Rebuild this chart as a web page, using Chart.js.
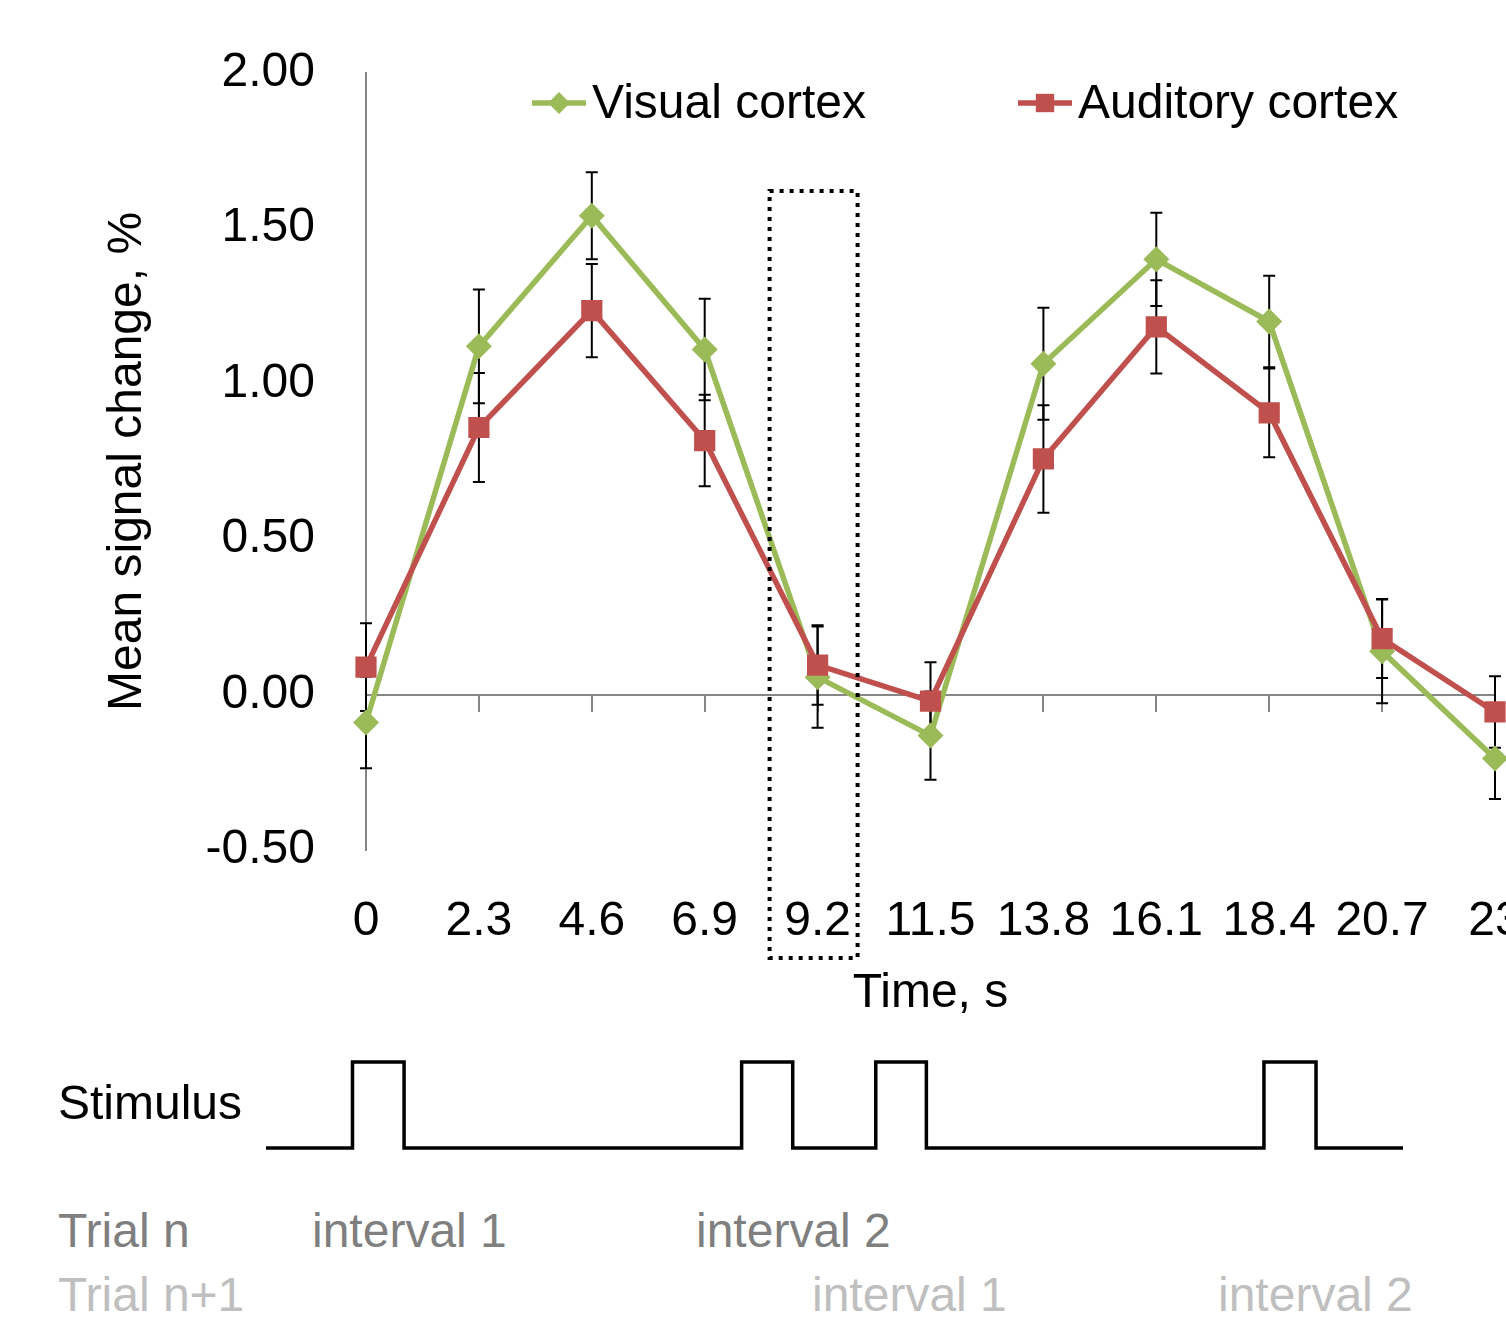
<!DOCTYPE html>
<html>
<head>
<meta charset="utf-8">
<script src="https://cdn.jsdelivr.net/npm/chart.js@4.4.1/dist/chart.umd.min.js"></script>
<style>
  body { margin:0; width:1506px; height:1321px; overflow:hidden; background:#fff; position:relative;
         font-family:"Liberation Sans", Arial, sans-serif; }
  #top { position:absolute; left:0; top:-7px; width:1560px; height:1047px; }
  #stim { position:absolute; left:0; top:1040px; width:1560px; height:160px; }
  .lbl { position:absolute; font-size:48px; line-height:48px; white-space:nowrap; }
</style>
</head>
<body>
<div id="top"><canvas id="mainChart"></canvas></div>
<div id="stim"><canvas id="stimChart"></canvas></div>

<div class="lbl" style="left:58px; top:1079px; color:#000;">Stimulus</div>
<div class="lbl" style="left:58px; top:1207px; color:#7f7f7f;">Trial n</div>
<div class="lbl" style="left:312px; top:1207px; color:#7f7f7f;">interval 1</div>
<div class="lbl" style="left:696px; top:1207px; color:#7f7f7f;">interval 2</div>
<div class="lbl" style="left:58px; top:1271px; color:#bfbfbf;">Trial n+1</div>
<div class="lbl" style="left:812px; top:1271px; color:#bfbfbf;">interval 1</div>
<div class="lbl" style="left:1218px; top:1271px; color:#bfbfbf;">interval 2</div>

<script>
const timeLabels = ['0', '2.3', '4.6', '6.9', '9.2', '11.5', '13.8', '16.1', '18.4', '20.7', '23'];
const visualMean = [-0.09, 1.12, 1.54, 1.11, 0.056, -0.132, 1.064, 1.40, 1.20, 0.139, -0.206];
const visualErr = [0.147, 0.183, 0.14, 0.163, 0.163, 0.142, 0.18, 0.15, 0.147, 0.167, 0.13];
const auditoryMean = [0.088, 0.859, 1.235, 0.817, 0.095, -0.021, 0.758, 1.183, 0.906, 0.18, -0.056];
const auditoryErr = [0.141, 0.175, 0.15, 0.147, 0.128, 0.125, 0.173, 0.15, 0.143, 0.127, 0.115];
const yTicks = [-0.5, 0, 0.5, 1, 1.5, 2];

// stimulus on/off in seconds, same time base as the plot above
const stimTimes = [-2.04, -0.28, 0.77, 7.64, 8.68, 10.37, 11.4, 18.27, 19.33, 21.1];
const stimLevel = [0, 1, 0, 1, 0, 1, 0, 1, 0, 0];

const FONT = '"Liberation Sans", Arial, sans-serif';
const AXIS_GRAY = '#868686';

const errorBars = {
  id: 'errorBars',
  beforeDatasetsDraw(chart) {
    const ctx = chart.ctx, y = chart.scales.y;
    ctx.save();
    ctx.strokeStyle = '#000';
    ctx.lineWidth = 2;
    chart.data.datasets.forEach((ds, i) => {
      if (!ds.errors) return;
      chart.getDatasetMeta(i).data.forEach((pt, j) => {
        const top = y.getPixelForValue(ds.data[j] + ds.errors[j]);
        const bot = y.getPixelForValue(ds.data[j] - ds.errors[j]);
        ctx.beginPath();
        ctx.moveTo(pt.x, top); ctx.lineTo(pt.x, bot);
        ctx.moveTo(pt.x - 6, top); ctx.lineTo(pt.x + 6, top);
        ctx.moveTo(pt.x - 6, bot); ctx.lineTo(pt.x + 6, bot);
        ctx.stroke();
      });
    });
    ctx.restore();
  }
};

// line + marker legend like the office one
const lineLegend = {
  id: 'lineLegend',
  afterDraw(chart, args, opts) {
    const ctx = chart.ctx;
    ctx.save();
    ctx.font = '48px ' + FONT;
    ctx.textBaseline = 'alphabetic';
    ctx.textAlign = 'left';
    chart.data.datasets.forEach((ds, i) => {
      const x = opts.x[i], y = opts.y;
      ctx.strokeStyle = ds.borderColor;
      ctx.lineWidth = ds.borderWidth;
      ctx.beginPath(); ctx.moveTo(x, y); ctx.lineTo(x + 54, y); ctx.stroke();
      ctx.fillStyle = ds.backgroundColor;
      Chart.helpers.drawPoint(ctx, {pointStyle: ds.pointStyle, radius: ds.pointRadius - 2, borderWidth: 0, rotation: 0}, x + 27, y);
      ctx.fillStyle = '#000';
      ctx.fillText(ds.label, x + 60, opts.textY);
    });
    ctx.restore();
  }
};

const focusBox = {
  id: 'focusBox',
  afterDraw(chart, args, opts) {
    const ctx = chart.ctx;
    const cx = chart.scales.x.getPixelForValue(opts.index);
    const top = chart.scales.y.getPixelForValue(opts.top);
    const bottom = chart.chartArea.bottom + 108;
    ctx.save();
    ctx.strokeStyle = '#000';
    ctx.lineWidth = 4;
    ctx.setLineDash([4, 6]);
    ctx.strokeRect(cx - 48, top, 88, bottom - top);
    ctx.restore();
  }
};

new Chart(document.getElementById('mainChart'), {
  type: 'line',
  data: {
    labels: timeLabels,
    datasets: [{
      label: 'Visual cortex',
      data: visualMean,
      errors: visualErr,
      borderColor: '#9BBB59',
      backgroundColor: '#9BBB59',
      borderWidth: 5.5,
      pointStyle: 'rectRot',
      pointRadius: 13,
      pointBorderWidth: 0,
      tension: 0,
      order: 2
    }, {
      label: 'Auditory cortex',
      data: auditoryMean,
      errors: auditoryErr,
      borderColor: '#C0504D',
      backgroundColor: '#C0504D',
      borderWidth: 5.5,
      pointStyle: 'rect',
      pointRadius: 15,
      pointBorderWidth: 0,
      tension: 0,
      order: 1
    }]
  },
  options: {
    animation: false,
    responsive: true,
    maintainAspectRatio: false,
    layout: { padding: { left: 95, top: 65, right: 65, bottom: 0 } },
    plugins: {
      legend: { display: false },
      tooltip: { enabled: false },
      lineLegend: { x: [532, 1018], y: 110, textY: 125 },
      focusBox: { index: 4, top: 1.62 }
    },
    scales: {
      x: {
        type: 'category',
        offset: false,
        grid: { display: false },
        border: { display: false },
        ticks: { color: '#000', font: { family: FONT, size: 48 }, padding: 35, maxRotation: 0, autoSkip: false },
        title: { display: true, text: 'Time, s', color: '#000', font: { family: FONT, size: 48 }, padding: { top: 0, bottom: 17 } },
        afterFit: s => { s.height = 190; }
      },
      x0: {
        type: 'category',
        position: { y: 0 },
        offset: false,
        grid: { display: true, drawOnChartArea: false, drawTicks: true, tickLength: 16, color: AXIS_GRAY, lineWidth: 2 },
        border: { display: true, color: AXIS_GRAY, width: 2 },
        ticks: { display: false }
      },
      y: {
        min: -0.5,
        max: 2,
        afterBuildTicks: s => { s.ticks = yTicks.map(v => ({ value: v })); },
        grid: { display: false, drawTicks: false },
        border: { display: true, color: AXIS_GRAY, width: 2 },
        ticks: { color: '#000', font: { family: FONT, size: 48 }, padding: 51, callback: v => v.toFixed(2) },
        title: { display: true, text: 'Mean signal change, %', color: '#000', font: { family: FONT, size: 48 }, padding: { top: 4, bottom: 0 } },
        afterFit: s => { s.width = 271; }
      }
    }
  },
  plugins: [errorBars, lineLegend, focusBox]
});

new Chart(document.getElementById('stimChart'), {
  type: 'line',
  data: {
    datasets: [{
      data: stimTimes.map((t, i) => ({ x: t, y: stimLevel[i] })),
      stepped: true,
      borderColor: '#000',
      borderWidth: 3.5,
      pointRadius: 0,
      clip: false
    }]
  },
  options: {
    animation: false,
    responsive: true,
    maintainAspectRatio: false,
    layout: { padding: { left: 266, right: 157, top: 22, bottom: 52 } },
    plugins: { legend: { display: false }, tooltip: { enabled: false } },
    scales: {
      x: { type: 'linear', min: -2.04, max: 21.1, display: false },
      y: { min: 0, max: 1, display: false }
    }
  }
});
</script>
</body>
</html>
